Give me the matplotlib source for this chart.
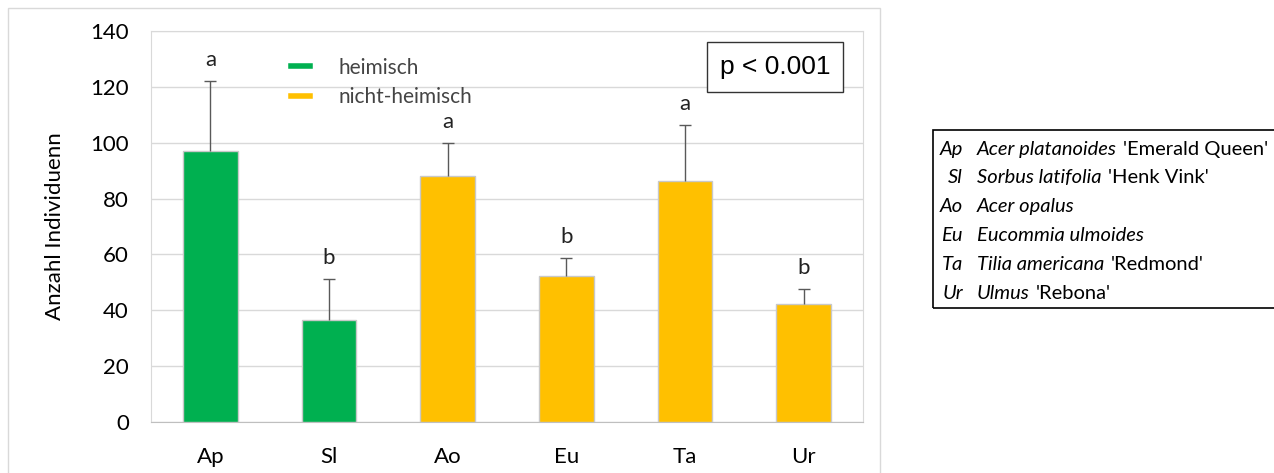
import matplotlib.pyplot as plt
from matplotlib.patches import Rectangle
from matplotlib.lines import Line2D

plt.rcParams['font.family'] = ['Lato', 'DejaVu Sans']

cats = ['Ap', 'Sl', 'Ao', 'Eu', 'Ta', 'Ur']
means = [97, 36.5, 88, 52.3, 86.3, 42.2]
errs = [25, 14.7, 12, 6.3, 20, 5.5]
letters = ['a', 'b', 'a', 'b', 'a', 'b']
native = [True, True, False, False, False, False]

species = ["Acer platanoides", "Sorbus latifolia", "Acer opalus",
           "Eucommia ulmoides", "Tilia americana", "Ulmus"]
cultivars = ["'Emerald Queen'", "'Henk Vink'", "", "", "'Redmond'", "'Rebona'"]

green = '#00b050'
orange = '#ffc000'

fig = plt.figure(figsize=(12.74, 4.73), dpi=100)
W, H = 1274, 473
ax = fig.add_axes([151 / W, 1 - 422 / H, (863 - 151) / W, (422 - 31) / H])

# outer chart frame
fig.patches.append(Rectangle((8 / W, -0.1), (880 - 8) / W, 1.1 - 8 / H,
                             transform=fig.transFigure, fill=False,
                             edgecolor='#d9d9d9', lw=1))

x = list(range(len(cats)))
colors = [green if n else orange for n in native]
ax.bar(x, means, width=0.46, color=colors, edgecolor='#c8c8c8', lw=1, zorder=3)
tops = [m + e for m, e in zip(means, errs)]
ax.vlines(x, means, tops, color='#595959', lw=1, zorder=4)
ax.scatter(x, tops, marker='_', s=70, color='#595959', lw=1, zorder=4)
for xi, t, l in zip(x, tops, letters):
    ax.text(xi, t + 4, l, ha='center', va='bottom', fontsize=16, color='#222222')

ax.set_xlim(-0.5, 5.5)
ax.set_ylim(0, 140)
ax.set_yticks(range(0, 141, 20))
ax.set_xticks(x)
ax.set_xticklabels(cats)
ax.tick_params(axis='both', length=0, labelsize=16, colors='#000000')
ax.tick_params(axis='y', pad=16)
ax.tick_params(axis='x', pad=18)
ax.grid(axis='y', color='#d9d9d9', lw=1, zorder=0)
for s in ['left', 'right', 'top']:
    ax.spines[s].set_color('#d9d9d9')
ax.spines['bottom'].set_color('#bfbfbf')
ax.set_ylabel('Anzahl Individuenn', fontsize=16, labelpad=18)

handles = [Line2D([], [], color=green, lw=4), Line2D([], [], color=orange, lw=4)]
ax.legend(handles, ['heimisch', 'nicht-heimisch'], loc='upper left',
          bbox_to_anchor=(0.17, 0.98), frameon=False, fontsize=15,
          handlelength=0.9, labelspacing=0.45, handletextpad=1.4,
          labelcolor='#444444')

fig.text(775 / W, 1 - 67 / H, 'p < 0.001', ha='center', va='center',
         fontsize=19, family='Liberation Sans',
         bbox=dict(boxstyle='square,pad=0.5', fc='white', ec='#333333', lw=1))

# species key box
fig.patches.append(Rectangle((933 / W, 1 - 308 / H), 0.5, (308 - 130) / H,
                             transform=fig.transFigure, fill=False,
                             edgecolor='black', lw=1.2))
for i, (c, sp, cv) in enumerate(zip(cats, species, cultivars)):
    yy = 1 - (149 + i * 28.8) / H
    fig.text(963 / W, yy, c, ha='right', va='center', fontsize=14.5, style='italic')
    t = fig.text(977 / W, yy, sp, ha='left', va='center', fontsize=14.5, style='italic')
    if cv:
        fig.canvas.draw()
        bb = t.get_window_extent()
        fig.text((bb.x1 + 6) / W, yy, cv, ha='left', va='center', fontsize=14.5)

fig.savefig('out.png', dpi=100)
